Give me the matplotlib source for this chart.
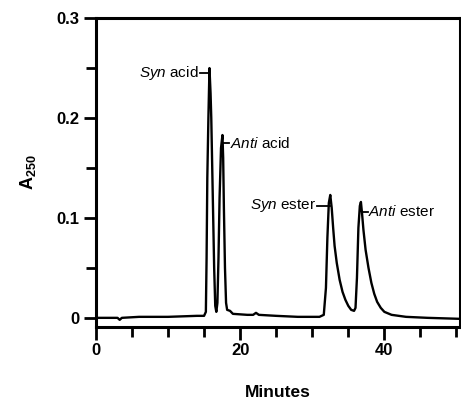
import matplotlib
matplotlib.use("Agg")
import matplotlib.pyplot as plt
from matplotlib.ticker import MultipleLocator

plt.rcParams['font.family'] = ['Liberation Sans', 'DejaVu Sans']
plt.rcParams['mathtext.fontset'] = 'custom'
plt.rcParams['mathtext.rm'] = 'Liberation Sans'
plt.rcParams['mathtext.it'] = 'Liberation Sans:italic'
plt.rcParams['mathtext.bf'] = 'Liberation Sans:bold'

# chromatogram trace (minutes, absorbance at 250 nm)
minutes = [0.0, 2.0, 3.0, 3.3, 3.6, 6.0, 10.0, 14.0, 15.0, 15.25, 15.35, 15.45,
           15.6, 15.75, 15.9, 16.0, 16.2, 16.4, 16.55, 16.7, 16.85, 17.0, 17.15,
           17.35, 17.55, 17.65, 17.75, 17.9, 18.05, 18.2, 18.6, 19.0, 21.0, 21.8,
           22.2, 22.6, 25.0, 28.0, 31.0, 31.6, 31.9, 32.1, 32.3, 32.5, 32.7, 32.9,
           33.1, 33.4, 33.8, 34.2, 34.6, 35.0, 35.4, 35.8, 36.0, 36.2, 36.4, 36.6,
           36.75, 36.9, 37.1, 37.4, 37.8, 38.2, 38.6, 39.0, 39.5, 40.0, 41.0, 43.0,
           46.0, 50.5]
a250 = [0.000, 0.000, 0.000, -0.002, 0.000, 0.001, 0.001, 0.002, 0.002, 0.006,
        0.060, 0.140, 0.200, 0.250, 0.225, 0.200, 0.125, 0.050, 0.012, 0.006,
        0.015, 0.060, 0.120, 0.170, 0.183, 0.160, 0.110, 0.050, 0.015, 0.008,
        0.007, 0.004, 0.003, 0.003, 0.005, 0.003, 0.002, 0.001, 0.001, 0.003,
        0.030, 0.080, 0.115, 0.123, 0.110, 0.090, 0.072, 0.055, 0.038, 0.026,
        0.018, 0.012, 0.008, 0.007, 0.010, 0.040, 0.090, 0.112, 0.116, 0.105,
        0.088, 0.068, 0.050, 0.035, 0.024, 0.016, 0.010, 0.006, 0.003, 0.001,
        0.000, -0.001]

# peak labels
labels = [r'$\mathit{Syn}\ \mathrm{acid}$', r'$\mathit{Anti}\ \mathrm{acid}$',
          r'$\mathit{Syn}\ \mathrm{ester}$', r'$\mathit{Anti}\ \mathrm{ester}$']
label_y = [0.245, 0.175, 0.112, 0.106]
dash_from = [14.4, 17.6, 30.7, 36.9]
dash_to = [15.65, 18.5, 32.4, 37.7]
text_x = [14.3, 18.6, 30.6, 37.8]
text_side = ['right', 'left', 'right', 'left']

fig = plt.figure(figsize=(4.61, 4.03), dpi=100)
ax = fig.add_axes([0.208, 0.189, 0.79, 0.766])

ax.plot(minutes, a250, color='black', lw=1.7)

for lab, y, d0, d1, tx, side in zip(labels, label_y, dash_from, dash_to, text_x, text_side):
    ax.plot([d0, d1], [y, y], color='black', lw=1.3)
    ax.text(tx, y, lab, ha=side, va='center', fontsize=11)

ax.set_xlim(0, 50.5)
ax.set_ylim(-0.009, 0.3)
ax.xaxis.set_minor_locator(MultipleLocator(5))
ax.yaxis.set_minor_locator(MultipleLocator(0.05))
ax.set_xticks([0, 20, 40])
ax.set_xticklabels(['0', '20', '40'])
ax.set_yticks([0, 0.1, 0.2, 0.3])
ax.set_yticklabels(['0', '0.1', '0.2', '0.3'])

for sp in ax.spines.values():
    sp.set_linewidth(2.2)
ax.tick_params(which='major', direction='out', length=9, width=2, labelsize=12, pad=3)
ax.tick_params(which='minor', direction='out', length=7, width=2)
for t in ax.get_xticklabels() + ax.get_yticklabels():
    t.set_fontweight('bold')

ax.set_xlabel('Minutes', fontsize=12.5, fontweight='bold', labelpad=19)
ax.set_ylabel(r'$\mathbf{A}_{\mathbf{250}}$', fontsize=13, labelpad=13)

fig.savefig('out.png', dpi=100)
